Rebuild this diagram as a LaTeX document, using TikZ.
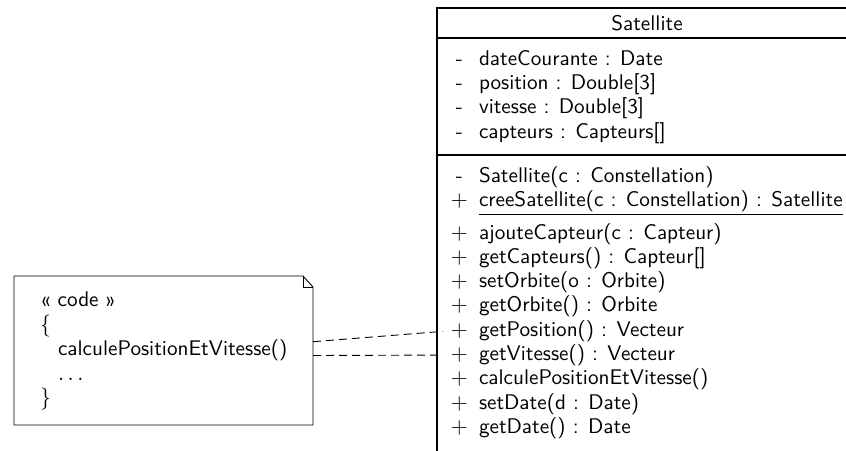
\documentclass[tikz,border=0pt]{standalone}
\usetikzlibrary{calc}
\begin{document}
\begin{tikzpicture}[x=0.5pt,y=-0.5pt,
  every node/.style={font=\sffamily\fontsize{10.6}{12.8}\selectfont, inner sep=0pt, outer sep=0pt},
  member/.style={anchor=base west},
  vis/.style={anchor=base},
  boxline/.style={line width=0.55pt, draw=black},
  noteline/.style={line width=0.45pt, draw=black},
  link/.style={line width=0.45pt, dash pattern=on 4pt off 2.5pt, shorten >=4pt}]

\useasboundingbox (0,0) rectangle (846,450);

% class Satellite (box continues past the right and bottom edges)
\draw[boxline] (437,470) -- (437,8) -- (880,8);
\draw[boxline] (437,38) -- (880,38);
\draw[boxline] (437,155) -- (880,155);
\node[vis] (title) at (647,30) {Satellite};

% attributes
\foreach \n/\y/\t in {1/65/{dateCourante : Date},
                       2/89.3/{position : Double[3]},
                       3/113.6/{vitesse : Double[3]},
                       4/138/{capteurs : Capteurs[]}}{
  \node[vis] (as\n) at (459.5,\y) {-};
  \node[member] (a\n) at (479,\y) {\t};
}

% operations
\node[vis] (os1) at (459.5,182) {-};
\node[member] (o1) at (479,182) {Satellite(c : Constellation)};
\node[vis] (os2) at (459.5,206) {$+$};
\node[member] (o2) at (479,206) {\underline{creeSatellite(c : Constellation) : Satellite}};
\foreach \n/\y/\t in {3/239/{ajouteCapteur(c : Capteur)},
                       4/263.3/{getCapteurs() : Capteur[]},
                       5/287.6/{setOrbite(o : Orbite)},
                       6/311.9/{getOrbite() : Orbite},
                       7/336.2/{getPosition() : Vecteur},
                       8/360.5/{getVitesse() : Vecteur},
                       9/384.8/{calculePositionEtVitesse()},
                       10/409.1/{setDate(d : Date)},
                       11/433.4/{getDate() : Date}}{
  \node[vis] (os\n) at (459.5,\y) {$+$};
  \node[member] (o\n) at (479,\y) {\t};
}

% code note with folded corner
\draw[noteline] (14,276) -- (303,276) -- (313,287) -- (313,425) -- (14,425) -- cycle;
\draw[noteline] (303,276) -- (303,287) -- (313,287);
\node[member] (n1) at (40,306.5) {\guillemotleft\ code \guillemotright};
\node[member] (n2) at (40,331) {$\{$};
\node[member] (n3) at (58,355.5) {calculePositionEtVitesse()};
\node[member] (n4) at (58,380) {$\ldots$};
\node[member] (n5) at (40,404.5) {$\}$};

% note attachments
\coordinate (noteA) at (313,341.7);
\coordinate (noteB) at (313,355.5);
\draw[link] (noteA) -- (os7.west);
\draw[link] (noteB) -- (os8.west);
\end{tikzpicture}
\end{document}
